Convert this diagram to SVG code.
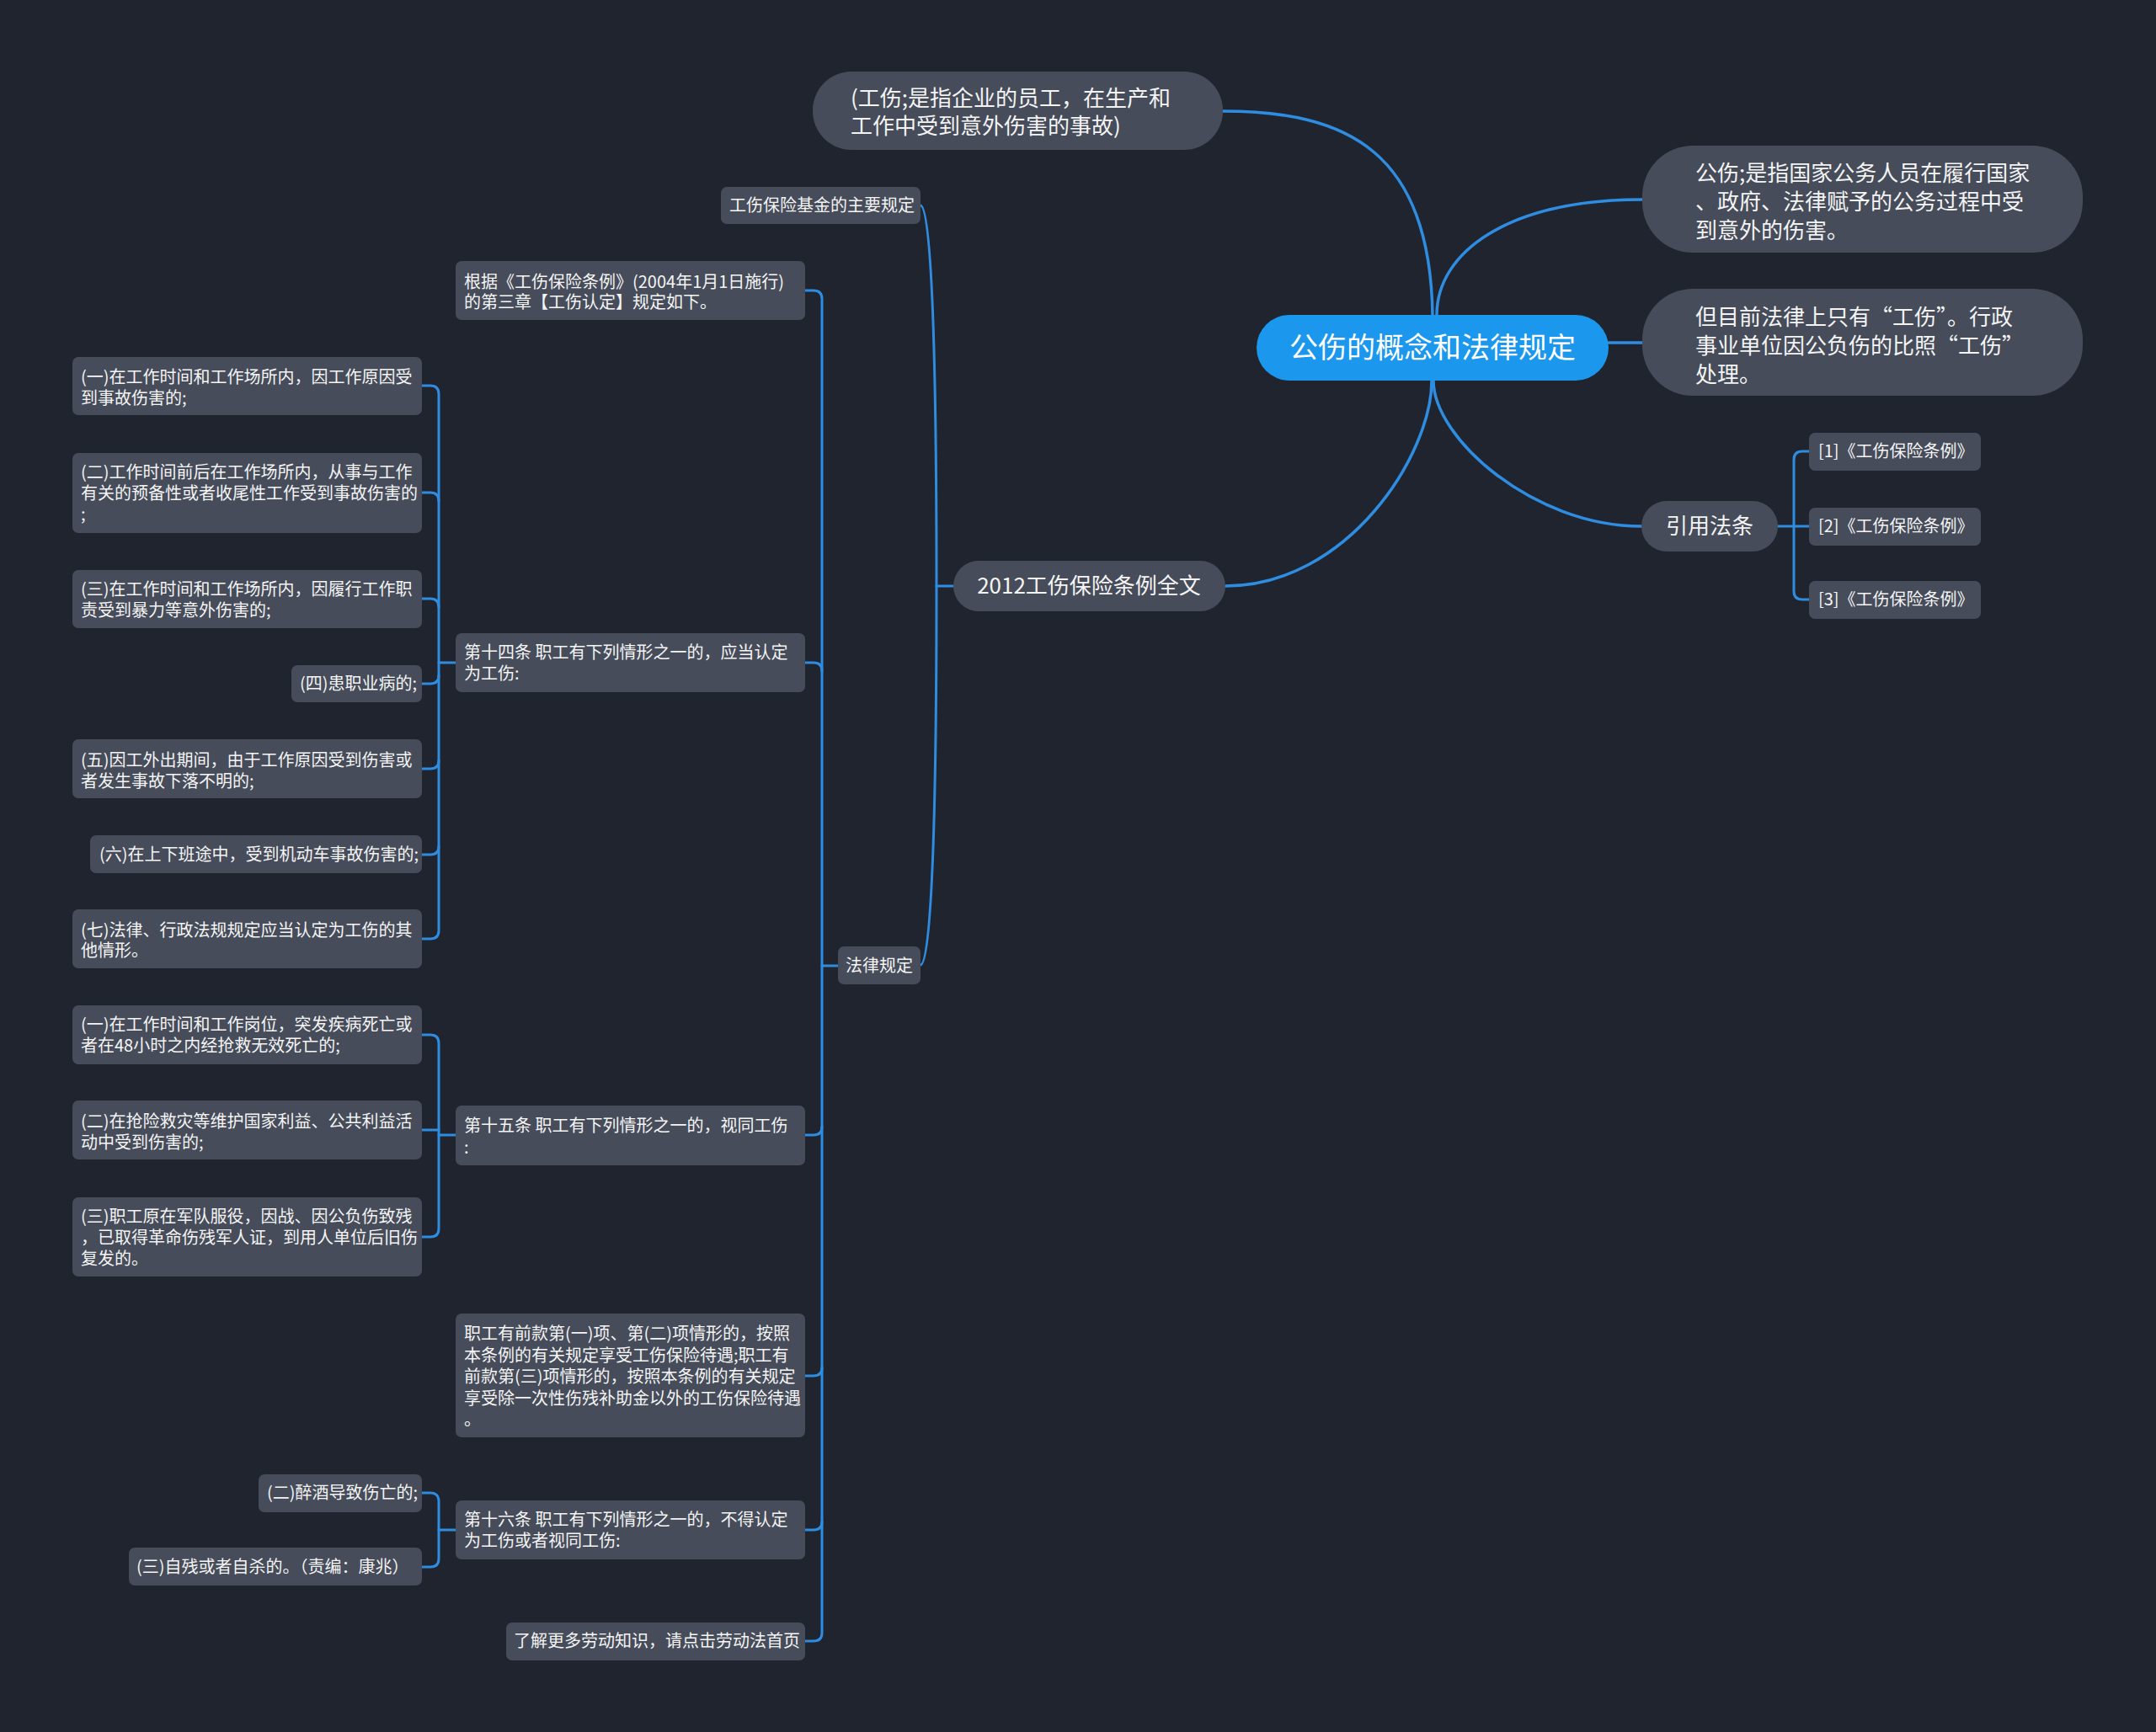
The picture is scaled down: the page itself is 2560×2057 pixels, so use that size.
<svg xmlns="http://www.w3.org/2000/svg" width="2560" height="2057" viewBox="0 0 2560 2057">
<style>
.bg{fill:#20242f}
.n{fill:#464c5a}
.r{fill:#1b97ee}
text{font-family:"Noto Sans CJK SC","Noto Sans",sans-serif;fill:#f4f4f4}
.s{font-size:20px}
.m{font-size:26px}
.l{font-size:34px;fill:#ffffff}
.c{fill:none;stroke:#2e8de1;stroke-width:3;stroke-linecap:round;stroke-linejoin:round}
.c2{fill:none;stroke:#2e8de1;stroke-width:3.5;stroke-linecap:round}
</style>
<rect class="bg" x="0" y="0" width="2560" height="2057"/>
<g id="connectors">
<path class="c2" d="M1701 374 C1698 180 1600 132 1452 132"/>
<path class="c2" d="M1706 374 C1706 300 1790 237 1950 237"/>
<path class="c2" d="M1910 407 L1950 407"/>
<path class="c2" d="M1702 452 C1702 520 1820 625 1949 625"/>
<path class="c2" d="M1700 452 C1700 540 1600 696 1455 696"/>
<path class="c" d="M2111 625 L2148 625"/>
<path class="c" d="M2148 536 L2140 536 Q2130 536 2130 546 L2130 702 Q2130 712 2140 712 L2148 712"/>
<path class="c" d="M1132 696 L1112 696"/>
<path class="c" d="M1112 696 C1112 420 1106 244 1093 244"/>
<path class="c" d="M1112 696 C1112 970 1106 1146 1093 1146"/>
<path class="c" d="M995 1147 L976 1147"/>
<path class="c" d="M956 345 L966 345 Q976 345 976 355 L976 1939 Q976 1949 966 1949 L956 1949"/>
<path class="c" d="M956 787 L966 787 Q976 787 976 797"/>
<path class="c" d="M956 1348 L966 1348 Q976 1348 976 1338"/>
<path class="c" d="M956 1634 L966 1634 Q976 1634 976 1624"/>
<path class="c" d="M956 1817 L966 1817 Q976 1817 976 1807"/>
<path class="c" d="M541 787 L521 787"/>
<path class="c" d="M501 458 L511 458 Q521 458 521 468 L521 1105 Q521 1115 511 1115 L501 1115"/>
<path class="c" d="M501 585 L511 585 Q521 585 521 595"/>
<path class="c" d="M501 711 L511 711 Q521 711 521 721"/>
<path class="c" d="M501 812 L511 812 Q521 812 521 802"/>
<path class="c" d="M501 913 L511 913 Q521 913 521 903"/>
<path class="c" d="M501 1015 L511 1015 Q521 1015 521 1005"/>
<path class="c" d="M541 1348 L521 1348"/>
<path class="c" d="M501 1229 L511 1229 Q521 1229 521 1239 L521 1459 Q521 1469 511 1469 L501 1469"/>
<path class="c" d="M501 1342 L521 1342"/>
<path class="c" d="M541 1817 L521 1817"/>
<path class="c" d="M501 1773 L511 1773 Q521 1773 521 1783 L521 1851 Q521 1861 511 1861 L501 1861"/>
</g>
<g id="root">
<rect class="r" x="1492" y="374" width="418" height="78" rx="39"/>
<text class="l" x="1701" y="425" text-anchor="middle">公伤的概念和法律规定</text>
</g>
<g id="n-gongshang">
<rect class="n" x="965" y="85" width="487" height="93" rx="46"/>
<text class="m"><tspan x="1010" y="126">(工伤;是指企业的员工，在生产和</tspan><tspan x="1010" y="159">工作中受到意外伤害的事故)</tspan></text>
</g>
<g id="n-gongshang2">
<rect class="n" x="1950" y="173" width="523" height="127" rx="60"/>
<text class="m"><tspan x="2013" y="215">公伤;是指国家公务人员在履行国家</tspan><tspan x="2013" y="249">、政府、法律赋予的公务过程中受</tspan><tspan x="2013" y="283">到意外的伤害。</tspan></text>
</g>
<g id="n-falv">
<rect class="n" x="1950" y="343" width="523" height="127" rx="60"/>
<text class="m"><tspan x="2013" y="386">但目前法律上只有“工伤”。行政</tspan><tspan x="2013" y="420">事业单位因公负伤的比照“工伤”</tspan><tspan x="2013" y="454">处理。</tspan></text>
</g>
<g id="n-yinyong">
<rect class="n" x="1949" y="595" width="162" height="60" rx="30"/>
<text class="m" x="2030" y="634" text-anchor="middle">引用法条</text>
</g>
<g id="n-ref1">
<rect class="n" x="2148" y="514" width="204" height="45" rx="7"/>
<text class="s" x="2159" y="543">[1]《工伤保险条例》</text>
</g>
<g id="n-ref2">
<rect class="n" x="2148" y="603" width="204" height="45" rx="7"/>
<text class="s" x="2159" y="632">[2]《工伤保险条例》</text>
</g>
<g id="n-ref3">
<rect class="n" x="2148" y="690" width="204" height="45" rx="7"/>
<text class="s" x="2159" y="719">[3]《工伤保险条例》</text>
</g>
<g id="n-2012">
<rect class="n" x="1132" y="666" width="323" height="60" rx="30"/>
<text class="m" x="1293" y="705" text-anchor="middle">2012工伤保险条例全文</text>
</g>
<g id="n-jijin">
<rect class="n" x="856" y="222" width="237" height="44" rx="7"/>
<text class="s" x="866" y="251">工伤保险基金的主要规定</text>
</g>
<g id="n-guiding">
<rect class="n" x="995" y="1124" width="98" height="45" rx="7"/>
<text class="s" x="1044" y="1154" text-anchor="middle">法律规定</text>
</g>
<g id="n-genju">
<rect class="n" x="541" y="310" width="415" height="70" rx="7"/>
<text class="s"><tspan x="551" y="342">根据《工伤保险条例》(2004年1月1日施行)</tspan><tspan x="551" y="366">的第三章【工伤认定】规定如下。</tspan></text>
</g>
<g id="n-14">
<rect class="n" x="541" y="752" width="415" height="70" rx="7"/>
<text class="s"><tspan x="551" y="782">第十四条 职工有下列情形之一的，应当认定</tspan><tspan x="551" y="807">为工伤:</tspan></text>
</g>
<g id="n-15">
<rect class="n" x="541" y="1313" width="415" height="71" rx="7"/>
<text class="s"><tspan x="551" y="1344">第十五条 职工有下列情形之一的，视同工伤</tspan><tspan x="551" y="1370">:</tspan></text>
</g>
<g id="n-qiankuan">
<rect class="n" x="541" y="1560" width="415" height="147" rx="7"/>
<text class="s"><tspan x="551" y="1591">职工有前款第(一)项、第(二)项情形的，按照</tspan><tspan x="551" y="1616.5">本条例的有关规定享受工伤保险待遇;职工有</tspan><tspan x="551" y="1642">前款第(三)项情形的，按照本条例的有关规定</tspan><tspan x="551" y="1667.5">享受除一次性伤残补助金以外的工伤保险待遇</tspan><tspan x="551" y="1693">。</tspan></text>
</g>
<g id="n-16">
<rect class="n" x="541" y="1782" width="415" height="70" rx="7"/>
<text class="s"><tspan x="551" y="1812">第十六条 职工有下列情形之一的，不得认定</tspan><tspan x="551" y="1837">为工伤或者视同工伤:</tspan></text>
</g>
<g id="n-more">
<rect class="n" x="601" y="1927" width="355" height="45" rx="7"/>
<text class="s" x="610" y="1956">了解更多劳动知识，请点击劳动法首页</text>
</g>
<g id="n-14-1">
<rect class="n" x="86" y="424" width="415" height="69" rx="7"/>
<text class="s"><tspan x="96" y="455">(一)在工作时间和工作场所内，因工作原因受</tspan><tspan x="96" y="480">到事故伤害的;</tspan></text>
</g>
<g id="n-14-2">
<rect class="n" x="86" y="538" width="415" height="95" rx="7"/>
<text class="s"><tspan x="96" y="568">(二)工作时间前后在工作场所内，从事与工作</tspan><tspan x="96" y="593">有关的预备性或者收尾性工作受到事故伤害的</tspan><tspan x="96" y="618">;</tspan></text>
</g>
<g id="n-14-3">
<rect class="n" x="86" y="677" width="415" height="69" rx="7"/>
<text class="s"><tspan x="96" y="707">(三)在工作时间和工作场所内，因履行工作职</tspan><tspan x="96" y="732">责受到暴力等意外伤害的;</tspan></text>
</g>
<g id="n-14-4">
<rect class="n" x="346" y="790" width="155" height="44" rx="7"/>
<text class="s" x="356" y="819">(四)患职业病的;</text>
</g>
<g id="n-14-5">
<rect class="n" x="86" y="878" width="415" height="70" rx="7"/>
<text class="s"><tspan x="96" y="910">(五)因工外出期间，由于工作原因受到伤害或</tspan><tspan x="96" y="935">者发生事故下落不明的;</tspan></text>
</g>
<g id="n-14-6">
<rect class="n" x="107" y="992" width="394" height="45" rx="7"/>
<text class="s" x="118" y="1022">(六)在上下班途中，受到机动车事故伤害的;</text>
</g>
<g id="n-14-7">
<rect class="n" x="86" y="1080" width="415" height="70" rx="7"/>
<text class="s"><tspan x="96" y="1112">(七)法律、行政法规规定应当认定为工伤的其</tspan><tspan x="96" y="1136">他情形。</tspan></text>
</g>
<g id="n-15-1">
<rect class="n" x="86" y="1194" width="415" height="70" rx="7"/>
<text class="s"><tspan x="96" y="1224">(一)在工作时间和工作岗位，突发疾病死亡或</tspan><tspan x="96" y="1249">者在48小时之内经抢救无效死亡的;</tspan></text>
</g>
<g id="n-15-2">
<rect class="n" x="86" y="1307" width="415" height="70" rx="7"/>
<text class="s"><tspan x="96" y="1339">(二)在抢险救灾等维护国家利益、公共利益活</tspan><tspan x="96" y="1364">动中受到伤害的;</tspan></text>
</g>
<g id="n-15-3">
<rect class="n" x="86" y="1422" width="415" height="94" rx="7"/>
<text class="s"><tspan x="96" y="1452">(三)职工原在军队服役，因战、因公负伤致残</tspan><tspan x="96" y="1477">，已取得革命伤残军人证，到用人单位后旧伤</tspan><tspan x="96" y="1502">复发的。</tspan></text>
</g>
<g id="n-16-2">
<rect class="n" x="307" y="1751" width="194" height="45" rx="7"/>
<text class="s" x="317" y="1780">(二)醉酒导致伤亡的;</text>
</g>
<g id="n-16-3">
<rect class="n" x="153" y="1838" width="348" height="45" rx="7"/>
<text class="s" x="162" y="1868">(三)自残或者自杀的。（责编：康兆）</text>
</g>
</svg>
